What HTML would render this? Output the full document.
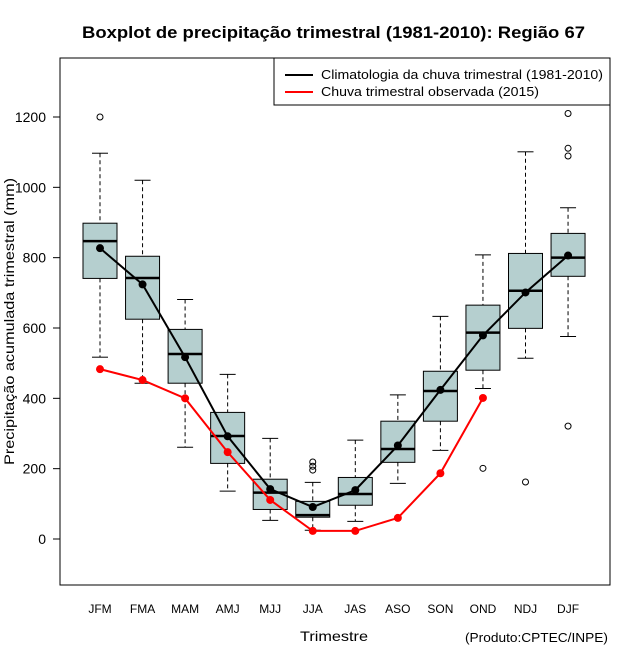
<!DOCTYPE html>
<html><head><meta charset="utf-8"><style>
body{margin:0;background:#fff;}
svg{display:block;font-family:"Liberation Sans",sans-serif;}
</style></head><body>
<svg id="chart" width="640" height="660"></svg>
<script>
const categories=["JFM","FMA","MAM","AMJ","MJJ","JJA","JAS","ASO","SON","OND","NDJ","DJF"];
const whiskerLow=[517,443,261,136,53,25,50,158,252,428,514,576];
const q1=[741,625,443,215,84,62,96,218,335,480,599,747];
const median=[847,742,526,293,132,68,128,256,421,587,706,800];
const q3=[898,804,596,360,170,107,175,335,477,665,812,869];
const whiskerHigh=[1097,1020,681,468,286,161,281,410,633,808,1101,942];
const climatology=[827,724,517,292,142,91,139,266,424,579,701,806];
const observed=[483,452,400,247,111,23,23,60,187,401];
const outliers=[[1200],[],[],[],[],[196,207,219],[],[],[],[201],[162],[1210,1111,1089,321]];
const yTicks=[0,200,400,600,800,1000,1200];

const NS="http://www.w3.org/2000/svg";
const svg=document.getElementById('chart');
const L=60,R=610,T=58,B=585;
const y=v=>539-v*0.35167;
const x=i=>100+i*42.55;
function mk(tag,attrs,parent){const e=document.createElementNS(NS,tag);for(const k in attrs)e.setAttribute(k,attrs[k]);(parent||svg).appendChild(e);return e;}

let t=mk('text',{x:82,y:38,'font-size':17,'font-weight':'bold',textLength:503,lengthAdjust:'spacingAndGlyphs'});
t.textContent='Boxplot de precipitação trimestral (1981-2010): Região 67';



let f=mk('rect',{x:L,y:T,width:R-L,height:B-T,fill:'none',stroke:'#000'});



yTicks.forEach(v=>{
  mk('line',{x1:L-7,x2:L,y1:y(v),y2:y(v),stroke:'#000'});
  let tl=mk('text',{x:46,y:y(v)+5,'text-anchor':'end','font-size':14});
  tl.textContent=v;
  
  
});
let yt=mk('text',{transform:'translate(14,465) rotate(-90)','font-size':14,textLength:287,lengthAdjust:'spacingAndGlyphs'});
yt.textContent='Precipitação acumulada trimestral (mm)';



categories.forEach((c,i)=>{
  const cx=x(i),hw=17,g=mk('g',{});
  
  
  mk('line',{x1:cx,x2:cx,y1:y(whiskerHigh[i]),y2:y(q3[i]),stroke:'#000','stroke-dasharray':'4,3'},g);
  mk('line',{x1:cx,x2:cx,y1:y(q1[i]),y2:y(whiskerLow[i]),stroke:'#000','stroke-dasharray':'4,3'},g);
  mk('line',{x1:cx-8,x2:cx+8,y1:y(whiskerHigh[i]),y2:y(whiskerHigh[i]),stroke:'#000'},g);
  mk('line',{x1:cx-8,x2:cx+8,y1:y(whiskerLow[i]),y2:y(whiskerLow[i]),stroke:'#000'},g);
  mk('rect',{x:cx-hw,y:y(q3[i]),width:2*hw,height:y(q1[i])-y(q3[i]),fill:'#b5cfcf',stroke:'#000'},g);
  mk('line',{x1:cx-hw,x2:cx+hw,y1:y(median[i]),y2:y(median[i]),stroke:'#000','stroke-width':2.5},g);
  outliers[i].forEach(o=>mk('circle',{cx:cx,cy:y(o),r:3,fill:'none',stroke:'#000'},g));
  let xl=mk('text',{x:cx,y:613,'text-anchor':'middle','font-size':12});
  xl.textContent=c;
  
  
});

function series(vals,color,name){
  const g=mk('g',{});
  
  
  mk('polyline',{points:vals.map((v,i)=>x(i)+','+y(v)).join(' '),fill:'none',stroke:color,'stroke-width':2},g);
  vals.forEach((v,i)=>mk('circle',{cx:x(i),cy:y(v),r:4,fill:color},g));
}
series(climatology,'#000','climatology-line');
series(observed,'#ff0000','observed-line');

let xt=mk('text',{x:300,y:641,'font-size':14,textLength:68,lengthAdjust:'spacingAndGlyphs'});
xt.textContent='Trimestre';


let pr=mk('text',{x:465,y:642,'font-size':13,textLength:143,lengthAdjust:'spacingAndGlyphs'});
pr.textContent='(Produto:CPTEC/INPE)';



const lg=mk('g',{});


mk('rect',{x:274,y:58,width:336,height:47,fill:'#fff',stroke:'#000'},lg);
mk('line',{x1:285,x2:313,y1:75,y2:75,stroke:'#000','stroke-width':2},lg);
mk('line',{x1:285,x2:313,y1:92,y2:92,stroke:'#ff0000','stroke-width':2},lg);
let l1=mk('text',{x:321,y:79,'font-size':13,textLength:282,lengthAdjust:'spacingAndGlyphs'},lg);l1.textContent='Climatologia da chuva trimestral (1981-2010)';


let l2=mk('text',{x:321,y:96,'font-size':13,textLength:218,lengthAdjust:'spacingAndGlyphs'},lg);l2.textContent='Chuva trimestral observada (2015)';


</script>
</body></html>
